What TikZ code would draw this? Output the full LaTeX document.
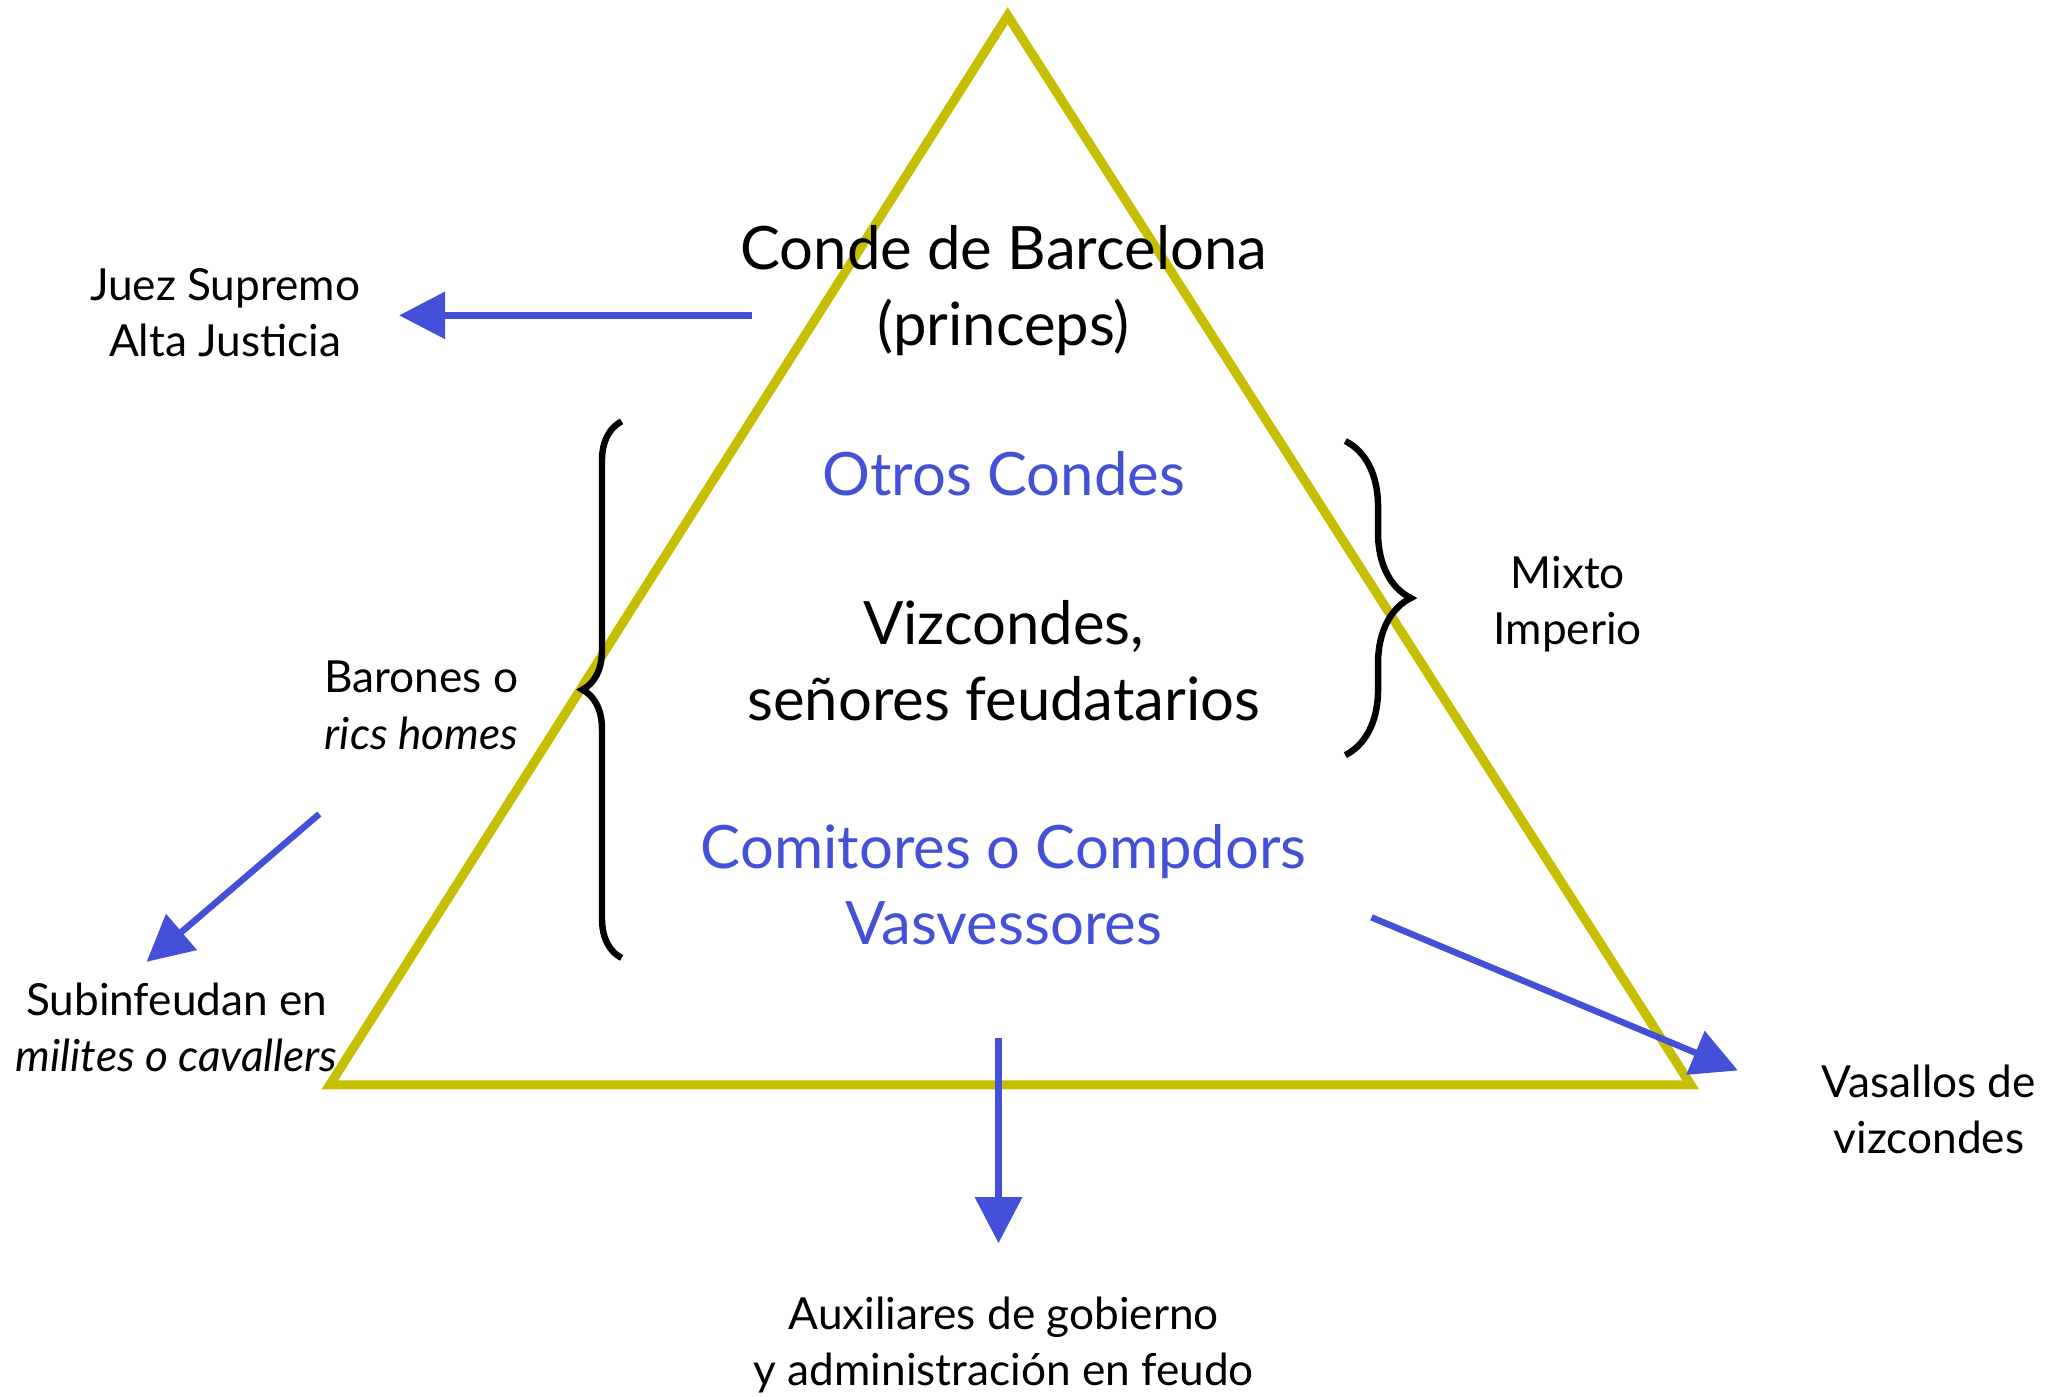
\documentclass[tikz,border=0pt]{standalone}
\usepackage{fontspec}
\setmainfont{Lato}
\usetikzlibrary{arrows.meta, positioning, decorations.pathreplacing}
\definecolor{pyrolive}{RGB}{200,190,0}
\definecolor{feudblue}{RGB}{68,80,216}

\begin{document}
\begin{tikzpicture}[x=0.01cm, y=-0.01cm,
  big/.style={align=center, inner sep=0pt, font=\fontsize{13}{16.5}\selectfont},
  small/.style={align=center, inner sep=0pt, font=\fontsize{9.6}{12.2}\selectfont},
  flow/.style={draw=feudblue, line width=1.4pt, -{Triangle[length=10pt, width=10pt]}},
  curly/.style={draw, line width=1.4pt, decorate, decoration={brace, amplitude=#1}}
]
  \useasboundingbox (0,0) rectangle (1568,1067);
  % pyramid
  \draw[pyrolive, line width=2pt] (770,12) -- (1292,829) -- (252,829) -- cycle;

  \node[big] (conde) at (767,222) {Conde de Barcelona\\(princeps)};
  \node[big, text=feudblue] (otros) at (767,362) {Otros Condes};
  \node[big] (vizc) at (767,505) {Vizcondes,\\señores feudatarios};
  \node[big, text=feudblue] (comit) at (767,676) {Comitores o Compdors\\Vasvessores};

  \node[small] (juez) at (172,239) {Juez Supremo\\Alta Justicia};
  \node[small] (barones) at (322,539) {Barones o\\\textit{rics homes}};
  \node[small] (subinf) at (135,785) {Subinfeudan en\\\textit{milites o cavallers}};
  \node[small] (mixto) at (1198,462) {Mixto\\Imperio};
  \node[small] (vasallos) at (1474,848) {Vasallos de\\vizcondes};
  \node[small] (auxil) at (767,1028) {Auxiliares de gobierno\\y administración en feudo};

  % braces
  \coordinate (lbrlow) at (475,732);
  \coordinate (lbrtop) at (475,322);
  \coordinate (rbrtop) at (1028,337);
  \coordinate (rbrlow) at (1028,577);
  \draw[curly=0.3cm] (lbrlow) -- (lbrtop);
  \draw[curly=0.5cm] (rbrtop) -- (rbrlow);

  % arrows
  \coordinate (juezfrom) at (575,241);
  \coordinate (juezto) at (305,241);
  \coordinate (subfrom) at (244,622);
  \coordinate (subto) at (112,735);
  \coordinate (vasfrom) at (1048,701);
  \coordinate (vasto) at (1328,818);
  \coordinate (auxfrom) at (763,793);
  \coordinate (auxto) at (763,950);
  \draw[flow] (juezfrom) -- (juezto);
  \draw[flow] (subfrom) -- (subto);
  \draw[flow] (vasfrom) -- (vasto);
  \draw[flow] (auxfrom) -- (auxto);
\end{tikzpicture}
\end{document}
